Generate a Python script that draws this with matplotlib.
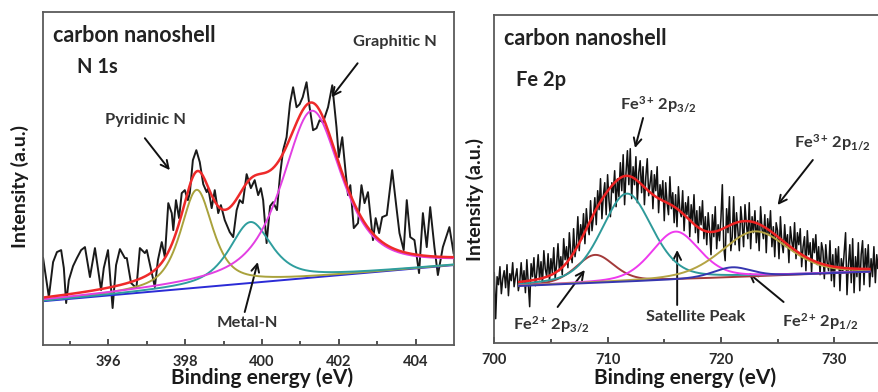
import numpy as np
import matplotlib
matplotlib.use("Agg")
import matplotlib.pyplot as plt

plt.rcParams["font.family"] = ["Lato", "DejaVu Sans"]
plt.rcParams["font.weight"] = "bold"
plt.rcParams["mathtext.fontset"] = "custom"
plt.rcParams["mathtext.rm"] = "Lato:bold"
plt.rcParams["mathtext.bf"] = "Lato:bold"
plt.rcParams["mathtext.it"] = "Lato:bold"
plt.rcParams["mathtext.default"] = "bf"

# ---------------- N 1s spectrum (binding energy in eV, counts in a.u.) ----------------
n1s_energy = [
    394.30, 394.45, 394.56, 394.66, 394.77, 394.84, 394.90, 394.97, 395.08, 395.18,
    395.29, 395.39, 395.52, 395.65, 395.81, 395.88, 395.99, 396.11, 396.20, 396.30,
    396.43, 396.48, 396.59, 396.73, 396.82, 396.95, 397.00, 397.21, 397.29, 397.39,
    397.47, 397.56, 397.65, 397.69, 397.76, 397.84, 397.91, 397.99, 398.07, 398.12,
    398.20, 398.29, 398.38, 398.47, 398.56, 398.60, 398.69, 398.77, 398.86, 398.93,
    399.03, 399.16, 399.25, 399.34, 399.42, 399.50, 399.60, 399.71, 399.81, 399.90,
    399.97, 400.03, 400.12, 400.21, 400.29, 400.39, 400.47, 400.55, 400.64, 400.73,
    400.81, 400.90, 400.98, 401.06, 401.16, 401.24, 401.33, 401.42, 401.50, 401.59,
    401.72, 401.83, 401.94, 402.00, 402.09, 402.18, 402.24, 402.30, 402.39, 402.50,
    402.59, 402.67, 402.76, 402.89, 402.96, 403.05, 403.13, 403.25, 403.39, 403.50,
    403.58, 403.69, 403.77, 403.86, 403.97, 404.09, 404.19, 404.29, 404.38, 404.49,
    404.58, 404.71, 404.88, 404.99,
]
n1s_counts = [
    87, 48, 83, 93, 95, 77, 42, 65, 79, 87,
    95, 98, 68, 97, 55, 77, 95, 37, 80, 96,
    87, 87, 62, 57, 97, 92, 95, 58, 85, 103,
    88, 142, 132, 115, 145, 127, 152, 155, 145, 152,
    185, 195, 183, 161, 153, 157, 137, 155, 132, 140,
    125, 113, 108, 135, 145, 142, 171, 157, 165, 150,
    157, 145, 102, 139, 143, 135, 170, 195, 208, 242,
    258, 238, 241, 248, 263, 238, 215, 217, 225, 223,
    238, 260, 218, 188, 208, 172, 150, 160, 117, 122,
    160, 142, 153, 105, 127, 112, 128, 130, 175, 138,
    112, 95, 145, 108, 105, 72, 132, 98, 138, 98,
    70, 98, 118, 92,
]
# linear background: (energy, counts) at both ends
n1s_bg_energy = [394.35, 405.0]
n1s_bg_counts = [44, 80]
# fitted components: Pyridinic N, Metal-N, Graphitic N
n1s_peak_center = [398.3, 399.7, 401.3]
n1s_peak_height = [98, 61, 167]
n1s_peak_fwhm = [1.0, 1.3, 1.85]
n1s_peak_colors = ["#a9a23c", "#2f9e9e", "#e23fe2"]

# ---------------- Fe 2p spectrum (uniform 0.125 eV steps) ----------------
fe_range = (700.0, 734.0)
fe_counts = [
    70, 24, 66, 58, 76, 49, 64, 72,
    55, 78, 47, 69, 62, 80, 56, 66,
    74, 52, 61, 80, 58, 72, 50, 83,
    60, 36, 79, 66, 85, 57, 70, 88,
    63, 81, 58, 92, 74, 66, 89, 61,
    84, 70, 95, 64, 78, 99, 72, 86,
    68, 104, 83, 96, 75, 110, 90, 80,
    114, 86, 98, 126, 92, 118, 104, 129,
    99, 134, 116, 108, 142, 112, 126, 145,
    118, 152, 133, 164, 124, 147, 160, 128,
    168, 142, 126, 160, 150, 172, 136, 164,
    146, 180, 152, 188, 138, 170, 192, 158,
    194, 144, 176, 158, 186, 140, 170, 182,
    150, 176, 138, 166, 184, 147, 160, 172,
    134, 168, 152, 176, 130, 158, 144, 162,
    122, 160, 140, 128, 166, 134, 150, 120,
    148, 116, 156, 132, 126, 152, 112, 140,
    128, 146, 106, 138, 120, 148, 110, 132,
    100, 136, 118, 142, 104, 126, 98, 130,
    112, 88, 128, 106, 136, 94, 118, 102,
    124, 158, 96, 82, 134, 110, 146, 92,
    106, 146, 98, 130, 112, 92, 136, 120,
    96, 138, 118, 104, 140, 94, 126, 110,
    132, 100, 122, 92, 136, 114, 104, 128,
    90, 124, 108, 132, 96, 116, 86, 120,
    112, 84, 126, 100, 90, 118, 96, 108,
    80, 116, 102, 92, 120, 84, 110, 98,
    114, 76, 96, 106, 72, 112, 88, 100,
    70, 104, 90, 108, 78, 96, 68, 100,
    92, 64, 98, 80, 72, 102, 62, 88,
    56, 94, 76, 96, 52, 84, 70, 90,
    110, 48, 78, 98, 60, 104, 50, 86,
    66, 100, 52, 88, 102, 58, 94, 72,
    98, 56, 84, 66, 96, 60, 88, 74,
    84,
]
fe_bg_energy = [702.2, 733.1]
fe_bg_counts = [56.7, 71.0]
# fitted components: Fe2+ 2p3/2, Fe3+ 2p3/2, satellite, Fe3+ 2p1/2, Fe2+ 2p1/2
fe_peak_center = [708.9, 711.7, 716.0, 723.0, 721.0]
fe_peak_height = [28, 88, 48, 45, 10]
fe_peak_fwhm = [4.0, 5.3, 5.0, 7.0, 4.0]
fe_peak_colors = ["#a33a3a", "#2e9a9a", "#ee3aee", "#b4a444", "#3636b0"]


def pseudo_voigt(x, center, height, fwhm, eta):
    u = (x - center) / (fwhm / 2.0)
    return height * (eta / (1.0 + u ** 2) + (1.0 - eta) * np.exp(-np.log(2.0) * u ** 2))


def style_axes(ax, xlim, ylim, major, minor):
    ax.set_xlim(*xlim)
    ax.set_ylim(*ylim)
    ax.set_xticks(major)
    ax.set_xticks(minor, minor=True)
    ax.set_yticks([])
    ax.tick_params(axis="x", which="both", direction="in", top=False,
                   labelsize=10.5, pad=7.5, colors="#333333", labelcolor="#2a2a2a")
    ax.tick_params(axis="x", which="major", length=4, width=1.2)
    ax.tick_params(axis="x", which="minor", length=3, width=1.2)
    for s in ax.spines.values():
        s.set_color("#5a5a5a")
        s.set_linewidth(1.3)


fig = plt.figure(figsize=(8.79, 3.92), dpi=100)

title_kw = dict(fontweight="bold", ha="left", va="center", color="#222222")
lab_kw = dict(fontsize=11.8, fontweight="bold", ha="center", va="center", color="#333333")
ann_kw = dict(arrowprops=dict(arrowstyle="->", color="#111111", lw=1.4,
                              mutation_scale=14, shrinkA=0, shrinkB=0))

# ---------------- left panel: N 1s ----------------
ax1 = fig.add_axes([0.0486, 0.1199, 0.4679, 0.8487])
style_axes(ax1, (394.29, 405.0), (0, 333), [396, 398, 400, 402, 404],
           [395, 397, 399, 401, 403])

e1 = np.linspace(n1s_bg_energy[0], n1s_bg_energy[1], 400)
bg1 = np.interp(e1, n1s_bg_energy, n1s_bg_counts)
ax1.plot(n1s_energy, n1s_counts, color="#1a1a1a", lw=1.4, zorder=2)
ax1.plot(e1, bg1, color="#2b2bd6", lw=1.4, zorder=3)
total1 = bg1.copy()
for c, h, w, col in zip(n1s_peak_center, n1s_peak_height, n1s_peak_fwhm, n1s_peak_colors):
    comp = pseudo_voigt(e1, c, h, w, 0.7)
    total1 += comp
    ax1.plot(e1, bg1 + comp, color=col, lw=1.4, zorder=4)
ax1.plot(e1, total1, color="#ee2a2a", lw=1.8, zorder=5)

ax1.text(394.56, 310, "carbon nanoshell", fontsize=15.5, **title_kw)
ax1.text(395.18, 278, "N 1s", fontsize=14.5, **title_kw)
ax1.text(396.96, 225, "Pyridinic N", **lab_kw)
ax1.annotate("", xy=(397.60, 175), xytext=(396.95, 207), **ann_kw)
ax1.text(403.45, 303, "Graphitic N", **lab_kw)
ax1.annotate("", xy=(401.81, 248), xytext=(402.49, 282), **ann_kw)
ax1.text(399.61, 22, "Metal-N", **lab_kw)
ax1.annotate("", xy=(399.89, 83), xytext=(399.55, 33), **ann_kw)

# ---------------- right panel: Fe 2p ----------------
ax2 = fig.add_axes([0.5623, 0.1258, 0.4390, 0.8359])
style_axes(ax2, (700.0, 734.05), (0, 327.7), [700, 710, 720, 730],
           [705, 715, 725])
ax2.spines["right"].set_visible(False)

fe_energy = np.linspace(fe_range[0], fe_range[1], len(fe_counts))
ax2.plot(fe_energy, fe_counts, color="#111111", lw=1.1, zorder=2)
e2 = np.linspace(fe_bg_energy[0], fe_bg_energy[1], 500)
bg2 = np.interp(e2, fe_bg_energy, fe_bg_counts)
total2 = bg2.copy()
for c, h, w, col in zip(fe_peak_center, fe_peak_height, fe_peak_fwhm, fe_peak_colors):
    comp = pseudo_voigt(e2, c, h, w, 0.35)
    total2 += comp
    ax2.plot(e2, bg2 + comp, color=col, lw=1.4, zorder=4)
ax2.plot(e2, total2, color="#ee2222", lw=1.8, zorder=5)

ax2.text(700.9, 304.7, "carbon nanoshell", fontsize=15.5, **title_kw)
ax2.text(701.96, 262.7, "Fe 2p", fontsize=14.5, **title_kw)
ax2.text(714.46, 237.7, r"Fe$^{3+}\,$2p$_{3/2}$", **lab_kw)
ax2.annotate("", xy=(712.42, 194.7), xytext=(713.13, 224.7), **ann_kw)
ax2.text(729.88, 199.7, r"Fe$^{3+}\,$2p$_{1/2}$", **lab_kw)
ax2.annotate("", xy=(725.0, 137.7), xytext=(728.11, 182.7), **ann_kw)
ax2.text(705.06, 17.7, r"Fe$^{2+}\,$2p$_{3/2}$", **lab_kw)
ax2.annotate("", xy=(707.99, 72.7), xytext=(705.59, 35.7), **ann_kw)
ax2.text(717.74, 25.7, "Satellite Peak", **lab_kw)
ax2.annotate("", xy=(716.14, 92.7), xytext=(716.14, 37.7), **ann_kw)
ax2.text(728.82, 20.7, r"Fe$^{2+}\,$2p$_{1/2}$", **lab_kw)
ax2.annotate("", xy=(722.43, 69.7), xytext=(725.53, 40.7), **ann_kw)

# axis titles
for x in (0.298, 0.779):
    fig.text(x, 0.021, "Binding energy (eV)", fontsize=15, fontweight="bold",
             ha="center", va="baseline", color="#1a1a1a")
for x, y in ((0.0228, 0.523), (0.5404, 0.49)):
    fig.text(x, y, "Intensity (a.u.)", fontsize=14, fontweight="bold", rotation=90,
             ha="center", va="center", color="#1a1a1a")

fig.savefig("out.png", dpi=100)
